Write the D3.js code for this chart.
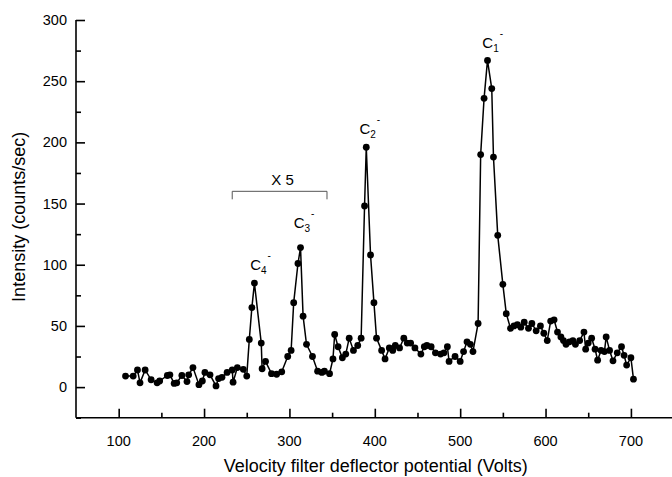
<!DOCTYPE html>
<html>
<head>
<meta charset="utf-8">
<script src="https://cdn.jsdelivr.net/npm/d3@7"></script>
<style>
  body { margin: 0; background: #fff; }
  svg { display: block; font-family: "Liberation Sans", Arial, sans-serif; }
</style>
</head>
<body>
<div id="chart"></div>
<script>
(function(){
    // data
    var voltage = [108,117,122,125,131,138,145,148,157,160,165,168,174,180,182,187,194,198,201,207,
                   214,217,221,227,233,234,239,246,250,253,256,259,267,268,272,279,285,291,298,302,
                   305,310,313,316,320,327,333,338,341,347,351,353,357,362,366,370,375,380,384,388,
                   390,395,399,402,408,412,417,421,424,429,434,438,442,447,454,458,461,466,471,477,
                   481,485,487,494,500,504,508,512,515,521,524,528,532,537,539,544,550,554,559,563,
                   567,571,575,580,584,589,594,598,602,606,610,614,618,621,624,628,632,635,640,645,
                   647,650,654,658,661,665,669,671,675,679,684,689,692,695,700,703];
    var intensity = [9,9,14,3.5,14,6,3.5,5,9.5,10,3,3.5,9.5,4.5,10,16,2,5,12,10,
                     1,7,8,12,14,4,16,14.5,9,39,65,85,36,15,21,11,10.5,12.5,25,30,
                     69,101,114,58,35,25,13,12,13,11,23,43,33,24,27,40,30,34,40,148,
                     196,108,69,40,30,23,32,30,34,32,40,36,36,32,27,33,34,33,28,27,
                     28,33,21,25,21,29,37,35,29,52,190,236,267,244,188,124,84,60,48,50,
                     51,49,53,48,52,46,50,44,38,54,55,45,41,38,35,37,38,35,38,45,
                     31,36,40,31,22,30,29,41,30,21.5,28,33,26,18,24,6.5];

    // peak labels: ion, charge subscript, position of the label in data units
    var peakNames  = ['C', 'C', 'C', 'C'];
    var peakSubs   = ['1', '2', '3', '4'];
    var peakLabelX = [526, 382, 305, 254];
    var peakLabelY = [277, 207, 130, 96];

    // "X 5" bracket span
    var bracketX = [233, 344];
    var bracketY = 160;

    var xTicks = [100,200,300,400,500,600,700];
    var yTicks = [0,50,100,150,200,250,300];

    var WIDTH  = 672,
        HEIGHT = 477,
        LEFT   = 76,
        RIGHT  = 673.6,
        TOP    = 20,
        BOTTOM = 417.7;

    var svg = d3.select('#chart').append('svg')
        .attr('width', WIDTH)
        .attr('height', HEIGHT);

    var x = d3.scaleLinear().domain([50, 750]).range([LEFT, RIGHT]);
    var y = d3.scaleLinear().domain([-25, 300]).range([BOTTOM, TOP]);

    // axes with inward ticks
    var xAxis = d3.axisTop(x).tickValues(xTicks).tickSize(9).tickFormat('');
    var xMinor = d3.axisTop(x).tickValues(d3.range(150, 751, 100)).tickSize(5).tickFormat('');
    var yAxis = d3.axisRight(y).tickValues(yTicks).tickSize(9).tickFormat('');
    var yMinor = d3.axisRight(y).tickValues(d3.range(-25, 300, 50)).tickSize(5).tickFormat('');

    [xAxis, xMinor].forEach(function(a){
        svg.append('g').attr('transform', 'translate(0,' + BOTTOM + ')').call(a);
    });
    [yAxis, yMinor].forEach(function(a){
        svg.append('g').attr('transform', 'translate(' + LEFT + ',0)').call(a);
    });
    svg.selectAll('.tick line').attr('stroke', '#000').attr('stroke-width', 1.6);
    // plain axis lines instead of d3's capped domain paths
    svg.selectAll('.domain').remove();
    svg.append('line').attr('x1', LEFT).attr('x2', LEFT).attr('y1', TOP).attr('y2', BOTTOM)
        .attr('stroke', '#000').attr('stroke-width', 1.6);
    svg.append('line').attr('x1', LEFT).attr('x2', RIGHT).attr('y1', BOTTOM).attr('y2', BOTTOM)
        .attr('stroke', '#000').attr('stroke-width', 1.6);

    // tick labels
    svg.append('g').selectAll('text').data(xTicks).enter().append('text')
        .attr('x', function(d){ return x(d); })
        .attr('y', BOTTOM + 28)
        .attr('text-anchor', 'middle')
        .attr('font-size', 14.5)
        .text(function(d){ return d; });

    svg.append('g').selectAll('text').data(yTicks).enter().append('text')
        .attr('x', LEFT - 9)
        .attr('y', function(d){ return y(d) + 5; })
        .attr('text-anchor', 'end')
        .attr('font-size', 14.5)
        .text(function(d){ return d; });

    // axis titles
    svg.append('text')
        .attr('x', (LEFT + RIGHT) / 2 + 1)
        .attr('y', 472)
        .attr('text-anchor', 'middle')
        .attr('font-size', 18)
        .text('Velocity filter deflector potential (Volts)');

    svg.append('text')
        .attr('transform', 'translate(25,' + ((TOP + BOTTOM) / 2 - 2) + ') rotate(-90)')
        .attr('text-anchor', 'middle')
        .attr('font-size', 18)
        .text('Intensity (counts/sec)');

    // data line + markers
    var pts = voltage.map(function(v, i){ return [v, intensity[i]]; });

    var line = d3.line()
        .x(function(d){ return x(d[0]); })
        .y(function(d){ return y(d[1]); });

    svg.append('path')
        .datum(pts)
        .attr('d', line)
        .attr('fill', 'none')
        .attr('stroke', '#000')
        .attr('stroke-width', 1.5);

    svg.append('g').selectAll('circle').data(pts).enter().append('circle')
        .attr('cx', function(d){ return x(d[0]); })
        .attr('cy', function(d){ return y(d[1]); })
        .attr('r', 3.4)
        .attr('fill', '#000');

    // peak labels
    peakNames.forEach(function(n, i){
        var t = svg.append('text')
            .attr('x', x(peakLabelX[i]))
            .attr('y', y(peakLabelY[i]))
            .attr('font-size', 15);
        t.append('tspan').text(n);
        t.append('tspan').attr('font-size', 10).attr('dy', 4).text(peakSubs[i]);
        t.append('tspan').attr('font-size', 10).attr('dy', -15).attr('dx', 1).text('-');
    });

    // "X 5" bracket
    var bx0 = x(bracketX[0]), bx1 = x(bracketX[1]), by = y(bracketY);
    svg.append('path')
        .attr('d', 'M' + bx0 + ',' + (by + 8) + 'V' + by + 'H' + bx1 + 'V' + (by + 8))
        .attr('fill', 'none')
        .attr('stroke', '#555')
        .attr('stroke-width', 1);
    svg.append('text')
        .attr('x', (bx0 + bx1) / 2 + 3)
        .attr('y', by - 6)
        .attr('text-anchor', 'middle')
        .attr('font-size', 15)
        .text('X 5');
})();
</script>
</body>
</html>
